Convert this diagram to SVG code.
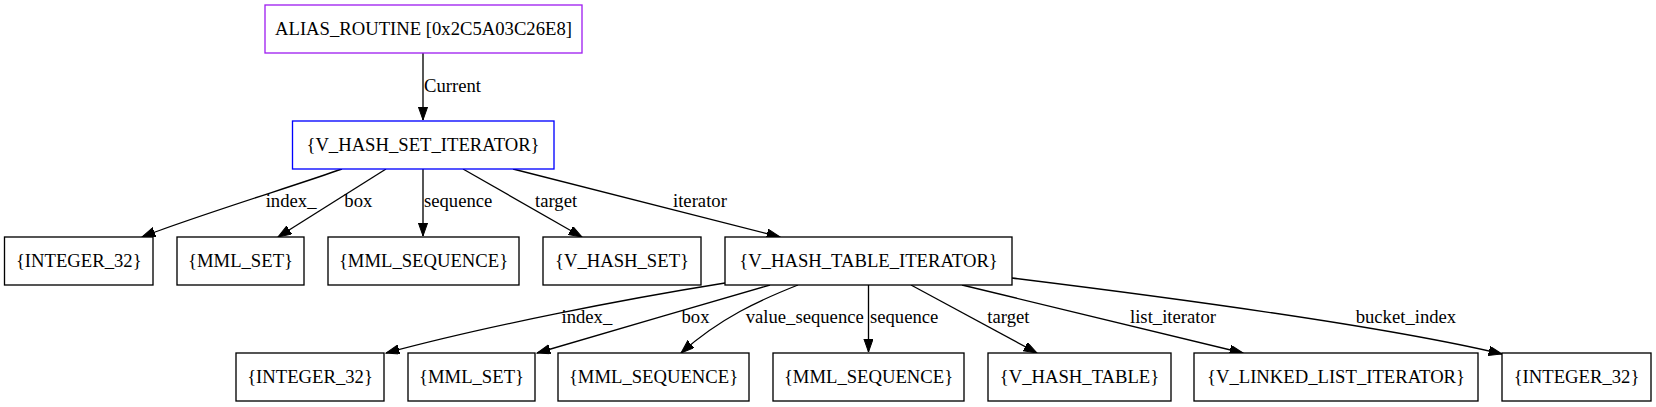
<svg xmlns="http://www.w3.org/2000/svg" width="1656" height="407" viewBox="0 0 1656 407">
<style>
  .node rect { fill: #ffffff; stroke: #000000; stroke-width: 1.33; }
  .node text { font-family: "Liberation Serif", "Times New Roman", serif; font-size: 18.67px; fill: #000; text-anchor: middle; }
  .edges path { fill: none; stroke: #000; stroke-width: 1.33; marker-end: url(#arrow); }
  .edges text { font-family: "Liberation Serif", "Times New Roman", serif; font-size: 18.67px; fill: #000; text-anchor: start; }
</style>
<defs>
  <marker id="arrow" markerUnits="userSpaceOnUse" markerWidth="14" markerHeight="10" refX="13.3" refY="4.7" orient="auto">
    <path d="M0,0 L13.3,4.7 L0,9.4 z" fill="#000" stroke="#000" stroke-width="1"/>
  </marker>
</defs>
<rect width="1656" height="407" fill="#ffffff"/>

<g id="edges" class="edges">
  <path d="M423,53 L423,120"/>
  <text x="424" y="92">Current</text>

  <path d="M342,169 C300,184 190,218 142,237"/>
  <text x="265.7" y="206.7">index_</text>
  <path d="M386,169 L278,237"/>
  <text x="344.3" y="206.7">box</text>
  <path d="M423,169 L423,236"/>
  <text x="424" y="206.7">sequence</text>
  <path d="M463,169 L582,237"/>
  <text x="535" y="206.7">target</text>
  <path d="M513,169 L780,237"/>
  <text x="673" y="206.7">iterator</text>

  <path d="M725,283 C625,299 486,326 386,353"/>
  <text x="561.5" y="323.3">index_</text>
  <path d="M770,285 C700,305 600,335 537,353"/>
  <text x="681.5" y="323.3">box</text>
  <path d="M798,285 C760,300 720,318 681,353"/>
  <text x="745.7" y="323.3">value_sequence</text>
  <path d="M868.5,285 L868.5,352"/>
  <text x="870" y="323.3">sequence</text>
  <path d="M911,285 L1037,353"/>
  <text x="987.3" y="323.3">target</text>
  <path d="M962,285 L1243,353"/>
  <text x="1130" y="323.3">list_iterator</text>
  <path d="M1012,278 C1150,295 1380,325 1502,354"/>
  <text x="1355.7" y="323.3">bucket_index</text>
</g>

<g id="alias_routine" class="node">
  <rect x="265" y="5" width="317" height="48" style="stroke:#a020f0"/>
  <text x="423.5" y="34.5">ALIAS_ROUTINE [0x2C5A03C26E8]</text>
</g>
<g id="v_hash_set_iterator" class="node">
  <rect x="292.5" y="121" width="261.5" height="48" style="stroke:#0000ff"/>
  <text x="423" y="150.5">{V_HASH_SET_ITERATOR}</text>
</g>

<g id="integer_32_a" class="node">
  <rect x="4.5" y="237" width="148.5" height="48"/>
  <text x="78.75" y="266.5">{INTEGER_32}</text>
</g>
<g id="mml_set_a" class="node">
  <rect x="177" y="237" width="127" height="48"/>
  <text x="240.5" y="266.5">{MML_SET}</text>
</g>
<g id="mml_sequence_a" class="node">
  <rect x="328" y="237" width="191" height="48"/>
  <text x="423.5" y="266.5">{MML_SEQUENCE}</text>
</g>
<g id="v_hash_set" class="node">
  <rect x="543" y="237" width="158" height="48"/>
  <text x="622" y="266.5">{V_HASH_SET}</text>
</g>
<g id="v_hash_table_iterator" class="node">
  <rect x="725" y="237" width="287" height="48"/>
  <text x="868.5" y="266.5">{V_HASH_TABLE_ITERATOR}</text>
</g>

<g id="integer_32_b" class="node">
  <rect x="236" y="353" width="148" height="48"/>
  <text x="310" y="382.5">{INTEGER_32}</text>
</g>
<g id="mml_set_b" class="node">
  <rect x="408" y="353" width="127" height="48"/>
  <text x="471.5" y="382.5">{MML_SET}</text>
</g>
<g id="mml_sequence_b" class="node">
  <rect x="558" y="353" width="191" height="48"/>
  <text x="653.5" y="382.5">{MML_SEQUENCE}</text>
</g>
<g id="mml_sequence_c" class="node">
  <rect x="773" y="353" width="191" height="48"/>
  <text x="868.5" y="382.5">{MML_SEQUENCE}</text>
</g>
<g id="v_hash_table" class="node">
  <rect x="988" y="353" width="183" height="48"/>
  <text x="1079.5" y="382.5">{V_HASH_TABLE}</text>
</g>
<g id="v_linked_list_iterator" class="node">
  <rect x="1194" y="353" width="284" height="48"/>
  <text x="1336" y="382.5">{V_LINKED_LIST_ITERATOR}</text>
</g>
<g id="integer_32_c" class="node">
  <rect x="1502" y="353" width="149" height="48"/>
  <text x="1576.5" y="382.5">{INTEGER_32}</text>
</g>
</svg>
